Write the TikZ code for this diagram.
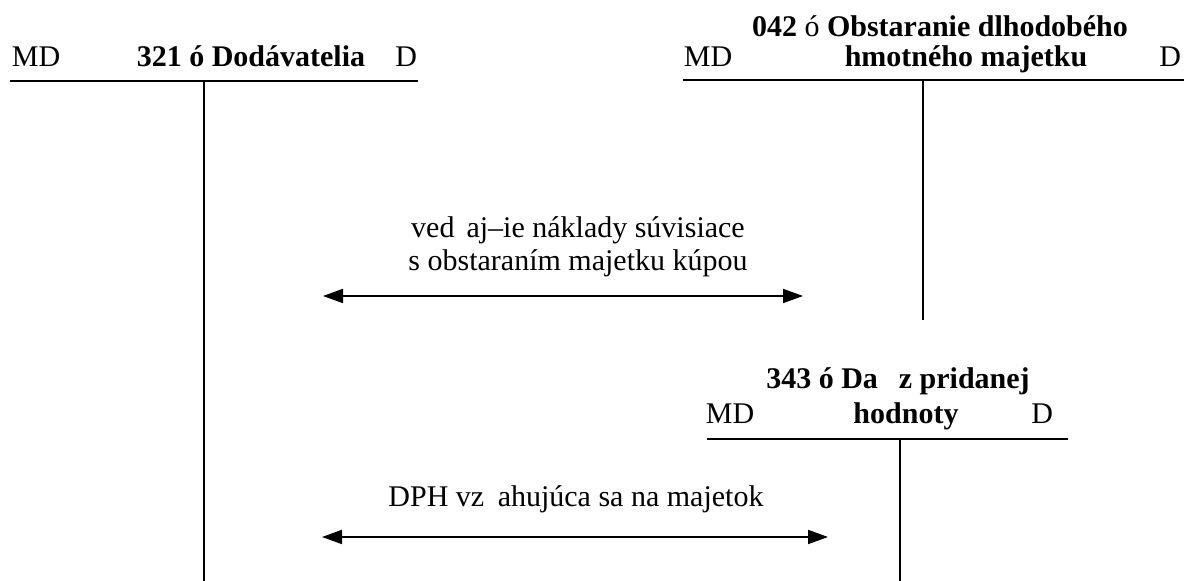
\documentclass[tikz,border=0pt]{standalone}
\usepackage{fontspec}
\setmainfont{Liberation Serif}
\usetikzlibrary{arrows.meta}

\begin{document}
\begin{tikzpicture}[x=0.5pt,y=-0.5pt,line width=0.9pt,>={Triangle[length=10pt,width=7pt]},
        lbl/.style={anchor=base,inner sep=0pt,font=\fontsize{15}{18}\selectfont},
        ttl/.style={lbl,font=\fontsize{15}{18}\selectfont\bfseries}]
                \useasboundingbox (0,0) rectangle (1194,581);
                % 321
                \draw (10,81) -- (418,81);
                \draw (204,81) -- (204,581);
                \node[lbl,anchor=base west] (md321) at (11,67) {MD};
                \node[ttl] (t321) at (251,67) {321 ó Dodávatelia};
                \node[lbl,anchor=base east] (d321) at (418,67) {D};
                % 042
                \draw (683,80) -- (1184,80);
                \draw (923,80) -- (923,320);
                \node[lbl,anchor=base west] (md042) at (683,67) {MD};
                \node[ttl] (t042) at (940,37) {042 \mdseries ó \bfseries Obstaranie dlhodobého};
                \node[ttl] (t042b) at (966,67) {hmotného majetku};
                \node[lbl,anchor=base east] (d042) at (1182,67) {D};
                % 343
                \draw (707,439) -- (1068,439);
                \draw (900,439) -- (900,581);
                \node[lbl,anchor=base west] (md343) at (705,424) {MD};
                \node[ttl] (t343) at (898,389) {343 ó Da\hspace*{0.7em}z pridanej};
                \node[ttl] (t343b) at (906,424) {hodnoty};
                \node[lbl,anchor=base east] (d343) at (1054,424) {D};
                % arrows
                \node[lbl] (txt1) at (578,238) {ved\hspace*{0.4em}aj\textendash ie náklady súvisiace};
                \node[lbl] (txt1b) at (578,271) {s obstaraním majetku kúpou};
                \coordinate (a1l) at (323,296);
                \coordinate (a1r) at (803,296);
                \draw[<->] (a1l) -- (a1r);
                \node[lbl] (txt2) at (576,507) {DPH vz\hspace*{0.45em}ahujúca sa na majetok};
                \coordinate (a2l) at (322,537);
                \coordinate (a2r) at (828,537);
                \draw[<->] (a2l) -- (a2r);
            \end{tikzpicture}
\end{document}
